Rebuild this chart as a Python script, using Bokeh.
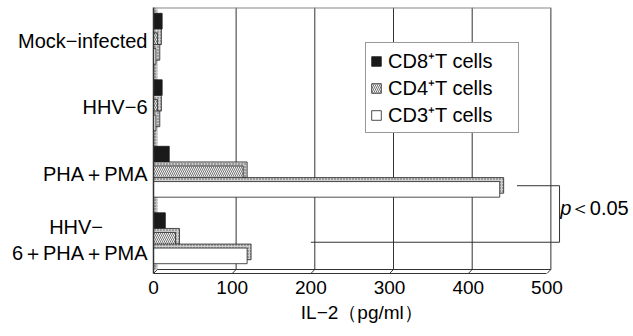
from bokeh.plotting import figure
from bokeh.models import Range1d, FixedTicker, Legend, LegendItem, Label, ColumnDataSource
from bokeh.embed import file_html
from bokeh.resources import INLINE

# ---- data ----
categories = ["Mock−infected", "HHV−6", "PHA＋PMA", "HHV−" + "\u00a0" * 8 + "\n6＋PHA＋PMA"]
cd8 = [6, 6, 15, 10]
cd4 = [5, 5, 114, 28]
cd3 = [3, 3, 440, 119]
series_names = ["CD8⁺T cells", "CD4⁺T cells", "CD3⁺T cells"]
x_ticks = [0, 100, 200, 300, 400, 500]
x_label = "IL−2（pg/ml）" + "\u00a0" * 12
sig_text = "＜0.05"

# ---- style / geometry ----
FONT = "Liberation Sans"
DX = 5.0        # pseudo-3D depth in x (data units)
DY = 0.06       # pseudo-3D depth in y (category units)
BAR_H = 0.235
OFFS = [-0.235, 0.0, 0.235]
Y_TOP, Y_BOT = -0.5, 3.5

p = figure(width=633, height=334, x_range=Range1d(0, 610), y_range=Range1d(Y_BOT, Y_TOP),
           output_backend="svg", toolbar_location=None,
           min_border_left=153, min_border_right=0, min_border_top=7, min_border_bottom=61)
p.outline_line_color = None
p.xgrid.visible = False
p.ygrid.visible = False
p.background_fill_color = "white"

# back wall grid lines, top edge, left wall, floor
gx = x_ticks[1:]
p.segment(x0=[t + DX for t in gx], y0=[Y_BOT - DY] * len(gx), x1=[t + DX for t in gx], y1=[Y_TOP] * len(gx),
          line_color="#333333", line_width=1)
p.segment(x0=[0], y0=[Y_TOP], x1=[x_ticks[-1] + DX], y1=[Y_TOP], line_color="#888888", line_width=2)
p.quad(left=[0], right=[DX], top=[Y_TOP], bottom=[Y_BOT - DY], fill_color="#c4c4c4",
       hatch_pattern="dot", hatch_color="#555555", hatch_scale=3, line_color=None)
p.segment(x0=[DX], y0=[Y_BOT - DY], x1=[x_ticks[-1] + DX], y1=[Y_BOT - DY], line_color="#333333", line_width=1)
p.segment(x0=[t + DX for t in x_ticks], y0=[Y_BOT - DY] * len(x_ticks), x1=x_ticks, y1=[Y_BOT] * len(x_ticks),
          line_color="#333333", line_width=1)

ypos = list(range(len(categories)))
series = [cd8, cd4, cd3]
front_styles = [
    dict(fill_color="#1a1a1a", line_color="#1a1a1a"),
    dict(fill_color="#f4f4f4", hatch_pattern="\\", hatch_color="#666666", hatch_scale=4, hatch_weight=0.9,
         line_color="#222222"),
    dict(fill_color="white", line_color="#222222"),
]
back_styles = [
    dict(fill_color="#1a1a1a", line_color="#1a1a1a"),
    dict(fill_color="#cfcfcf", hatch_pattern="dot", hatch_color="#555555", hatch_scale=3, line_color="#222222"),
    dict(fill_color="#cfcfcf", hatch_pattern="dot", hatch_color="#555555", hatch_scale=3, line_color="#222222"),
]
fronts = []
for k, vals in enumerate(series):
    yk = [y + OFFS[k] for y in ypos]
    back = ColumnDataSource(dict(y=[v - DY for v in yk], right=[v + DX for v in vals]))
    p.hbar(y="y", left=0, right="right", height=BAR_H, source=back, line_width=0.8, **back_styles[k])
    src = ColumnDataSource(dict(y=yk, right=vals))
    r = p.hbar(y="y", left=0, right="right", height=BAR_H, source=src, line_width=0.8, **front_styles[k])
    fronts.append(r)

# axes
xa = p.xaxis[0]
xa.ticker = FixedTicker(ticks=x_ticks)
xa.bounds = (0, x_ticks[-1])
xa.major_tick_in = 0
xa.major_tick_out = 0
xa.minor_tick_line_color = None
xa.major_label_standoff = 7
xa.major_label_text_font = FONT
xa.major_label_text_font_size = "19px"
xa.major_label_text_color = "black"
xa.axis_line_color = "#333333"
xa.axis_line_width = 1.2
xa.axis_label = x_label
xa.axis_label_text_font = FONT
xa.axis_label_text_font_style = "normal"
xa.axis_label_text_font_size = "19px"
xa.axis_label_text_color = "black"
xa.axis_label_standoff = 5

ya = p.yaxis[0]
ya.ticker = FixedTicker(ticks=ypos)
ya.major_label_overrides = {i: c for i, c in enumerate(categories)}
ya.major_tick_in = 0
ya.major_tick_out = 0
ya.minor_tick_line_color = None
ya.major_label_standoff = 6
ya.major_label_text_font = FONT
ya.major_label_text_font_size = "20px"
ya.major_label_text_color = "black"
ya.axis_line_color = "#333333"
ya.axis_line_width = 1.5

# legend
legend = Legend(items=[LegendItem(label=n, renderers=[r]) for n, r in zip(series_names, fronts)],
                location=(212, 140), orientation="vertical")
legend.border_line_color = "#333333"
legend.border_line_width = 1.5
legend.background_fill_color = "white"
legend.background_fill_alpha = 1
legend.label_text_font = FONT
legend.label_text_font_size = "20px"
legend.label_text_color = "black"
legend.glyph_width = 12
legend.glyph_height = 12
legend.label_height = 20
legend.label_width = 126
legend.label_standoff = 6
legend.spacing = 0
legend.padding = 4
legend.margin = 0
p.add_layout(legend)

# significance bracket
p.segment(x0=[462, 516, 200], y0=[2.18, 2.18, 3.03], x1=[516, 516, 516], y1=[2.18, 3.03, 3.03],
          line_color="#333333", line_width=1)
p.add_layout(Label(x=517, y=2.52, text="p", text_font=FONT, text_font_style="italic",
                   text_font_size="20px", text_baseline="middle", text_align="left", text_color="black"))
p.add_layout(Label(x=529, y=2.52, text=sig_text, text_font=FONT,
                   text_font_size="20px", text_baseline="middle", text_align="left", text_color="black"))

open("out.html", "w").write(file_html(p, INLINE))
